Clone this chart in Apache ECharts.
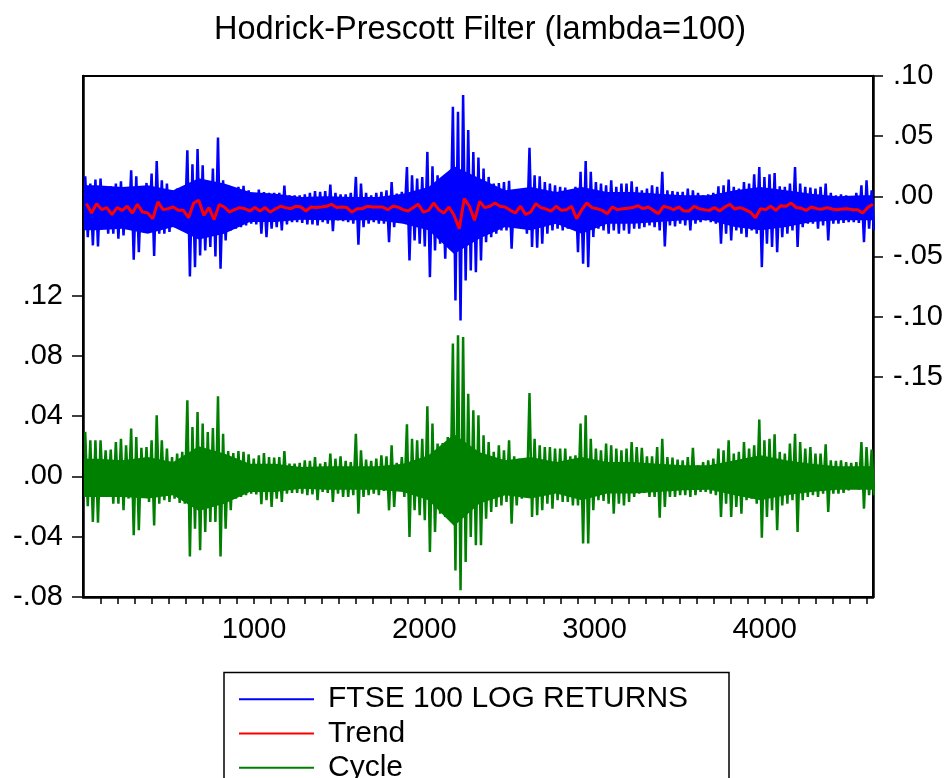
<!DOCTYPE html>
<html>
<head>
<meta charset="utf-8">
<script src="https://cdn.jsdelivr.net/npm/echarts@6/dist/echarts.min.js"></script>
<style>
html,body{margin:0;padding:0;background:#fff;}
#chart{width:952px;height:778px;}
</style>
</head>
<body>
<div id="chart"></div>
<script>
const WINDOW = 30;
const ftseHigh = [
.0167,.0106,.0139,.0147,.0078,.0083,.0106,.0125,.0044,.0217,
.0167,.0078,.0111,.0189,.0294,.0133,.0106,.0050,.0064,.0078,
.0383,.0267,.0392,.0258,.0083,.0231,.0489,.0133,.0092,.0064,
.0078,.0086,.0050,.0022,.0056,.0036,.0028,.0028,.0028,.0089,
.0008,.0008,.0008,.0017,.0028,.0044,.0036,.0044,.0097,.0028,
.0017,.0017,.0028,.0161,.0106,.0028,.0008,.0028,.0036,.0050,
.0119,.0022,.0036,.0244,.0175,.0147,.0161,.0369,.0250,.0175,
.0161,.0156,.0744,.0703,.0842,.0550,.0369,.0322,.0231,.0161,
.0106,.0111,.0119,.0128,.0036,.0028,.0022,.0403,.0175,.0167,
.0119,.0106,.0092,.0078,.0072,.0050,.0078,.0203,.0294,.0203,
.0119,.0106,.0092,.0133,.0078,.0106,.0106,.0125,.0078,.0050,
.0064,.0092,.0078,.0203,.0050,.0044,.0036,.0036,.0064,.0050,
.0028,.0008,.0017,.0028,.0083,.0092,.0139,.0078,.0064,.0119,
.0106,.0183,.0244,.0161,.0183,.0194,.0083,.0078,.0106,.0244,
.0106,.0078,.0072,.0064,.0078,.0106,.0028,.0008,.0017,.0008,
.0000,.0028,.0092,.0133,.0050];
const ftseLow = [
-.0339,-.0408,-.0417,-.0256,-.0311,-.0311,-.0353,-.0325,-.0269,-.0528,
-.0464,-.0269,-.0289,-.0497,-.0311,-.0311,-.0297,-.0256,-.0250,-.0283,
-.0667,-.0589,-.0492,-.0450,-.0422,-.0500,-.0603,-.0367,-.0283,-.0269,
-.0256,-.0242,-.0228,-.0233,-.0311,-.0339,-.0269,-.0256,-.0283,-.0233,
-.0214,-.0214,-.0222,-.0233,-.0233,-.0242,-.0214,-.0228,-.0289,-.0200,
-.0206,-.0214,-.0228,-.0403,-.0256,-.0228,-.0214,-.0228,-.0228,-.0381,
-.0256,-.0206,-.0214,-.0533,-.0367,-.0394,-.0417,-.0672,-.0450,-.0394,
-.0519,-.0381,-.0867,-.1033,-.0700,-.0617,-.0631,-.0533,-.0381,-.0339,
-.0311,-.0283,-.0283,-.0436,-.0256,-.0269,-.0311,-.0422,-.0428,-.0394,
-.0311,-.0283,-.0269,-.0283,-.0269,-.0256,-.0464,-.0561,-.0589,-.0339,
-.0269,-.0283,-.0311,-.0283,-.0311,-.0283,-.0311,-.0269,-.0269,-.0256,
-.0242,-.0256,-.0283,-.0417,-.0242,-.0250,-.0228,-.0242,-.0283,-.0228,
-.0214,-.0200,-.0214,-.0228,-.0394,-.0311,-.0367,-.0283,-.0311,-.0339,
-.0283,-.0311,-.0589,-.0394,-.0422,-.0464,-.0339,-.0311,-.0283,-.0422,
-.0256,-.0228,-.0228,-.0269,-.0242,-.0367,-.0228,-.0228,-.0222,-.0214,
-.0214,-.0222,-.0381,-.0269,-.0283];
const trend = [
-.0061,-.0139,-.0061,-.0111,-.0094,-.0153,-.0094,-.0117,-.0083,-.0139,
-.0067,-.0131,-.0139,-.0186,-.0047,-.0111,-.0103,-.0089,-.0117,-.0117,
-.0178,-.0056,-.0033,-.0158,-.0094,-.0194,-.0069,-.0089,-.0131,-.0111,
-.0094,-.0103,-.0122,-.0094,-.0122,-.0094,-.0131,-.0106,-.0083,-.0094,
-.0103,-.0083,-.0089,-.0122,-.0089,-.0094,-.0089,-.0083,-.0067,-.0094,
-.0089,-.0094,-.0131,-.0103,-.0103,-.0083,-.0089,-.0089,-.0089,-.0111,
-.0083,-.0089,-.0111,-.0122,-.0094,-.0067,-.0131,-.0117,-.0056,-.0111,
-.0139,-.0089,-.0158,-.0269,-.0019,-.0083,-.0200,-.0042,-.0094,-.0083,
-.0056,-.0083,-.0089,-.0117,-.0139,-.0083,-.0150,-.0131,-.0061,-.0094,
-.0106,-.0122,-.0083,-.0117,-.0111,-.0083,-.0186,-.0111,-.0056,-.0094,
-.0103,-.0117,-.0144,-.0089,-.0111,-.0103,-.0100,-.0094,-.0078,-.0103,
-.0089,-.0117,-.0144,-.0083,-.0094,-.0111,-.0089,-.0122,-.0122,-.0083,
-.0103,-.0111,-.0117,-.0094,-.0122,-.0089,-.0067,-.0106,-.0094,-.0111,
-.0131,-.0178,-.0103,-.0111,-.0083,-.0117,-.0078,-.0083,-.0056,-.0094,
-.0100,-.0117,-.0089,-.0103,-.0108,-.0094,-.0106,-.0111,-.0106,-.0103,
-.0111,-.0111,-.0139,-.0094,-.0067];
const cycleHigh = [
.0295,.0239,.0239,.0239,.0173,.0177,.0228,.0250,.0206,.0317,
.0261,.0190,.0195,.0239,.0405,.0239,.0184,.0128,.0151,.0162,
.0505,.0328,.0427,.0350,.0295,.0321,.0532,.0283,.0168,.0155,
.0168,.0162,.0146,.0117,.0140,.0155,.0128,.0124,.0128,.0168,
.0084,.0084,.0089,.0106,.0102,.0128,.0084,.0095,.0151,.0117,
.0133,.0102,.0095,.0283,.0173,.0111,.0102,.0117,.0140,.0133,
.0206,.0089,.0128,.0346,.0250,.0239,.0250,.0465,.0350,.0217,
.0221,.0261,.0882,.0937,.0926,.0549,.0439,.0405,.0272,.0228,
.0162,.0206,.0173,.0239,.0133,.0117,.0106,.0554,.0250,.0206,
.0195,.0195,.0184,.0184,.0184,.0133,.0140,.0350,.0405,.0250,
.0184,.0173,.0217,.0206,.0184,.0173,.0184,.0228,.0195,.0190,
.0133,.0133,.0195,.0250,.0128,.0124,.0111,.0106,.0128,.0190,
.0073,.0095,.0106,.0117,.0184,.0173,.0239,.0151,.0162,.0228,
.0184,.0206,.0377,.0239,.0250,.0279,.0162,.0151,.0217,.0283,
.0228,.0184,.0195,.0151,.0151,.0213,.0106,.0102,.0106,.0095,
.0089,.0095,.0228,.0195,.0177];
const cycleLow = [
-.0199,-.0303,-.0308,-.0120,-.0137,-.0182,-.0182,-.0226,-.0148,-.0392,
-.0359,-.0137,-.0171,-.0326,-.0182,-.0159,-.0171,-.0148,-.0177,-.0182,
-.0532,-.0348,-.0492,-.0370,-.0303,-.0303,-.0532,-.0348,-.0226,-.0148,
-.0137,-.0126,-.0115,-.0120,-.0186,-.0159,-.0204,-.0148,-.0171,-.0115,
-.0111,-.0111,-.0115,-.0126,-.0120,-.0159,-.0104,-.0111,-.0171,-.0115,
-.0137,-.0137,-.0126,-.0248,-.0137,-.0126,-.0115,-.0126,-.0097,-.0226,
-.0204,-.0097,-.0137,-.0403,-.0226,-.0259,-.0292,-.0503,-.0370,-.0248,
-.0270,-.0237,-.0625,-.0757,-.0569,-.0403,-.0458,-.0458,-.0281,-.0237,
-.0204,-.0193,-.0171,-.0315,-.0193,-.0148,-.0137,-.0270,-.0259,-.0226,
-.0182,-.0215,-.0159,-.0171,-.0171,-.0193,-.0193,-.0447,-.0447,-.0226,
-.0159,-.0164,-.0182,-.0248,-.0182,-.0193,-.0171,-.0137,-.0115,-.0111,
-.0137,-.0137,-.0275,-.0204,-.0137,-.0137,-.0126,-.0126,-.0137,-.0126,
-.0104,-.0104,-.0115,-.0126,-.0270,-.0182,-.0270,-.0204,-.0248,-.0159,
-.0148,-.0182,-.0408,-.0270,-.0226,-.0359,-.0193,-.0182,-.0159,-.0370,
-.0159,-.0137,-.0126,-.0137,-.0115,-.0237,-.0115,-.0115,-.0111,-.0093,
-.0082,-.0089,-.0215,-.0126,-.0126];

const BLOCK = 150;
const ftseCoreHigh = [.0092,.0078,.0092,.0050,.0150,.0106,.0036,.0022,-.0006,.0000,-.0006,-.0006,.0022,.0078,.0250,.0150,
  .0050,.0078,.0036,.0078,.0036,.0036,.0022,.0008,.0008,.0050,.0078,.0050,.0022,.0000,.0008];
const ftseCoreLow = [-.0283,-.0269,-.0311,-.0256,-.0360,-.0311,-.0214,-.0214,-.0194,-.0200,-.0200,-.0200,-.0228,-.0283,-.0480,-.0350,
  -.0256,-.0283,-.0228,-.0311,-.0228,-.0228,-.0214,-.0200,-.0200,-.0256,-.0283,-.0256,-.0214,-.0200,-.0200];
const cycleCoreHigh = [.0117,.0106,.0128,.0095,.0200,.0151,.0084,.0084,.0062,.0066,.0066,.0066,.0084,.0140,.0280,.0160,
  .0106,.0128,.0095,.0128,.0095,.0095,.0084,.0073,.0073,.0106,.0140,.0106,.0084,.0066,.0066];
const cycleCoreLow = [-.0137,-.0137,-.0148,-.0126,-.0230,-.0182,-.0104,-.0104,-.0082,-.0089,-.0089,-.0089,-.0104,-.0159,-.0330,-.0180,
  -.0126,-.0148,-.0115,-.0159,-.0115,-.0115,-.0104,-.0093,-.0089,-.0126,-.0159,-.0126,-.0104,-.0089,-.0089];

const xTickValues = [100,200,300,400,500,600,700,800,900,1000,1100,1200,1300,1400,1500,1600,1700,1800,1900,2000,2100,2200,2300,2400,2500,2600,2700,2800,2900,3000,3100,3200,3300,3400,3500,3600,3700,3800,3900,4000,4100,4200,4300,4400,4500,4600];
const xLabelValues = [1000,2000,3000,4000];
const leftTickValues = [-0.08,-0.04,0,0.04,0.08,0.12];
const rightTickValues = [-0.15,-0.10,-0.05,0,0.05,0.10];
const seriesNames = ['FTSE 100 LOG RETURNS','Trend','Cycle'];
const titleText = 'Hodrick-Prescott Filter (lambda=100)';
const X_MIN = -5, X_MAX = 4636;

const HI_OFF = 8, LO_OFF = 23;
function envelope(hi, lo) {
  const out = [];
  for (let k = 0; k < hi.length; k++) {
    out.push([k * WINDOW + HI_OFF, hi[k]]);
    out.push([k * WINDOW + LO_OFF, lo[k]]);
  }
  return out;
}
const trendData = trend.map((v, k) => [k * WINDOW + 15, v]);

// filled dense core between the block highs and lows, placed with the axes' own scales
function coreSeries(hi, lo, yIndex, color) {
  const n = hi.length;
  return {
    type: 'custom', yAxisIndex: yIndex, data: [[0, 0]], clip: true, silent: true,
    renderItem: function (params, api) {
      const pts = [api.coord([0, hi[0]])];
      for (let j = 0; j < n; j++) pts.push(api.coord([j * BLOCK + BLOCK / 2, hi[j]]));
      pts.push(api.coord([X_MAX, hi[n - 1]]));
      pts.push(api.coord([X_MAX, lo[n - 1]]));
      for (let j = n - 1; j >= 0; j--) pts.push(api.coord([j * BLOCK + BLOCK / 2, lo[j]]));
      pts.push(api.coord([0, lo[0]]));
      return {type: 'polygon', shape: {points: pts}, style: {fill: color}};
    }
  };
}

function fmt(v) {
  const s = Math.abs(v).toFixed(2).replace(/^0/, '');
  return (v < -1e-9 ? '-' : '') + s;
}

const FONT = '"Liberation Sans", Arial, sans-serif';
const chart = echarts.init(document.getElementById('chart'), null, {renderer: 'canvas'});
chart.setOption({
  animation: false,
  backgroundColor: '#fff',
  title: {
    text: titleText, left: 475, textAlign: 'center', top: 9,
    textStyle: {fontFamily: FONT, fontSize: 32.5, fontWeight: 'normal', color: '#000'}
  },
  grid: {left: 83, top: 76, width: 790, height: 521, show: true, borderColor: '#000', borderWidth: 2,
         backgroundColor: 'transparent', containLabel: false, outerBoundsMode: 'none'},
  legend: {
    orient: 'vertical', left: 239, top: 682, height: 130, padding: 0, itemGap: 0,
    itemWidth: 75, itemHeight: 2, icon: 'rect', selectedMode: false,
    textStyle: {fontFamily: FONT, fontSize: 30, color: '#000', lineHeight: 34.3, padding: [0, 0, 0, 9]},
    data: seriesNames
  },
  graphic: [{
    type: 'rect', shape: {x: 224, y: 672.5, width: 505, height: 160},
    style: {fill: 'none', stroke: '#000', lineWidth: 1.5}, silent: true, z: 10
  }],
  xAxis: {
    type: 'value', min: X_MIN, max: X_MAX,
    axisLine: {show: true, onZero: false, lineStyle: {color: '#000', width: 2.5}},
    axisTick: {show: true, inside: false, length: 7, customValues: xTickValues, lineStyle: {color: '#000', width: 1.5}},
    axisLabel: {show: true, margin: 18, customValues: xLabelValues, formatter: v => String(v), fontFamily: FONT, fontSize: 29, color: '#000'},
    splitLine: {show: false}
  },
  yAxis: [{
    type: 'value', position: 'left', min: -0.0802, max: 0.266,
    axisLine: {show: true, onZero: false, lineStyle: {color: '#000', width: 2.5}},
    axisTick: {show: true, inside: false, length: 11, customValues: leftTickValues, lineStyle: {color: '#000', width: 1.5}},
    axisLabel: {show: true, margin: 20, customValues: leftTickValues, formatter: fmt, fontFamily: FONT, fontSize: 29, color: '#000'},
    splitLine: {show: false}
  }, {
    type: 'value', position: 'right', min: -0.3331, max: 0.10,
    axisLine: {show: true, onZero: false, lineStyle: {color: '#000', width: 2.5}},
    axisTick: {show: true, inside: false, length: 10, customValues: rightTickValues, lineStyle: {color: '#000', width: 1.5}},
    axisLabel: {show: true, margin: 20, customValues: rightTickValues, formatter: fmt, fontFamily: FONT, fontSize: 29, color: '#000'},
    splitLine: {show: false}
  }],
  series: [
    coreSeries(ftseCoreHigh, ftseCoreLow, 1, '#0000FF'),
  {
    name: seriesNames[0], type: 'line', yAxisIndex: 1, data: envelope(ftseHigh, ftseLow),
    showSymbol: false, symbol: 'none', silent: true, color: '#0000FF',
    lineStyle: {color: '#0000FF', width: 2.5}
  }, {
    name: seriesNames[1], type: 'line', yAxisIndex: 1, data: trendData,
    showSymbol: false, symbol: 'none', silent: true, color: '#FF0000',
    lineStyle: {color: '#FF0000', width: 3}
  },
    coreSeries(cycleCoreHigh, cycleCoreLow, 0, '#008000'),
  {
    name: seriesNames[2], type: 'line', yAxisIndex: 0, data: envelope(cycleHigh, cycleLow),
    showSymbol: false, symbol: 'none', silent: true, color: '#008000',
    lineStyle: {color: '#008000', width: 2.5}
  }]
});
</script>
</body>
</html>
